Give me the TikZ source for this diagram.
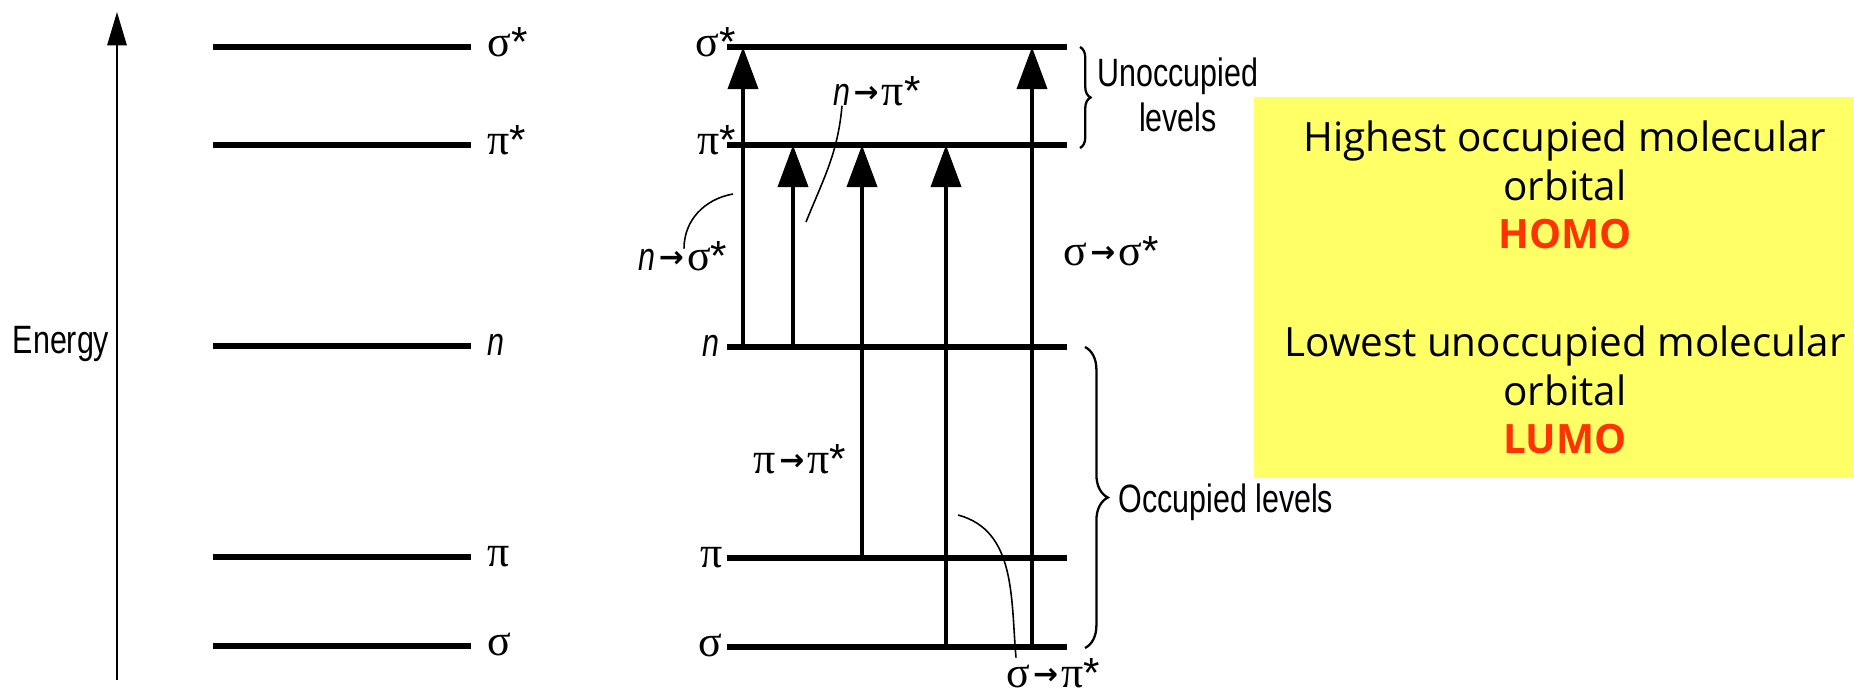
\documentclass[tikz,border=0pt]{standalone}
\usepackage{fontspec}
\setmainfont{Liberation Sans}
\newfontfamily\condfont[FakeStretch=0.77]{Liberation Sans}
\newfontfamily\starfont{Liberation Sans}
\newfontfamily\greekfont{Liberation Serif}
\newfontfamily\arrowfont{DejaVu Sans}
\newfontfamily\notefont{Open Sans}
\usetikzlibrary{arrows.meta, decorations.pathreplacing}

\definecolor{notebg}{HTML}{FFFF66}
\definecolor{notered}{HTML}{FF3300}

\newcommand{\sig}{{\greekfont\fontsize{25}{25}\selectfont σ}}
\newcommand{\pii}{{\greekfont\fontsize{25}{25}\selectfont π}}
\newcommand{\nn}{\textit{n}}
\newcommand{\str}{{\starfont\fontsize{24}{24}\selectfont *}}
\newcommand{\trto}{\hspace{0.08em}\raisebox{0.1ex}{\arrowfont\bfseries\fontsize{17}{17}\selectfont →}\hspace{0.08em}}

\begin{document}
\begin{tikzpicture}[
    x=0.02cm, y=-0.02cm,
    lev/.style={line width=3.3pt},
    trans/.style={line width=2.6pt, -{Triangle[length=24pt, width=17pt]}},
    lead/.style={line width=0.9pt},
    grp/.style={decorate, decoration={brace, amplitude=#1}, line width=1.3pt},
    grp/.default=6pt,
    lbl/.style={font=\condfont\fontsize{22.5}{25.5}\selectfont, inner sep=0pt},
    notebox/.style={fill=notebg, minimum width=12cm, minimum height=7.62cm, inner sep=0pt},
    note/.style={font=\notefont\fontsize{23}{27.5}\selectfont, align=center, inner sep=0pt}
]
\useasboundingbox (0,0) rectangle (1854,694);

% Energy axis
\coordinate (ebot) at (117,680);
\coordinate (etop) at (117,12);
\draw[line width=1.2pt, -{Triangle[length=19pt, width=11pt]}] (ebot) -- (etop);
\node[lbl, anchor=base] (energy) at (61,353) {Energy};

% Levels, left
\foreach \name/\y/\txt in {ss/47/{\sig\str}, pp/145/{\pii\str}, n/346/{\nn}, p/557/{\pii}, s/646/{\sig}} {
    \draw[lev] (213,\y) -- (471,\y);
    \node[lbl, anchor=base west] (l\name) at (487,\y+9) {\txt};
}

% Levels, right
\foreach \name/\y in {ss/47, pp/145, n/347, p/558, s/647} {
    \coordinate (a\name) at (727,\y);
    \coordinate (b\name) at (1067,\y);
    \draw[lev] (a\name) -- (b\name);
}
\node[lbl, anchor=base east] (mss) at (736,56) {\sig\str};
\node[lbl, anchor=base east] (mpp) at (736,154) {\pii\str};
\node[lbl, anchor=base east] (mn) at (720,356) {\nn};
\node[lbl, anchor=base east] (mp) at (723,567) {\pii};
\node[lbl, anchor=base east] (ms) at (723,656) {\sig};

% Transitions
\coordinate (x1) at (743,0);
\coordinate (x2) at (793,0);
\coordinate (x3) at (862,0);
\coordinate (x4) at (946,0);
\coordinate (x5) at (1032,0);
\draw[trans] (x1 |- an) -- (x1 |- ass);
\draw[trans] (x2 |- an) -- (x2 |- app);
\draw[trans] (x3 |- ap) -- (x3 |- app);
\draw[trans] (x4 |- as) -- (x4 |- app);
\draw[trans] (x5 |- as) -- (x5 |- ass);

% Transition labels
\node[lbl, anchor=base] (tns) at (683,270) {\nn\trto\sig\str};
\node[lbl, anchor=base] (tnp) at (877,105) {\nn\trto\pii\str};
\node[lbl, anchor=base] (tpp) at (800,473) {\pii\trto\pii\str};
\node[lbl, anchor=base] (tss) at (1111,265) {\sig\trto\sig\str};
\node[lbl, anchor=base] (tsp) at (1053,687) {\sig\trto\pii\str};

% Leaders
\coordinate (kns) at (733,194);
\coordinate (knp) at (806,222);
\coordinate (ksp) at (958,515);
\draw[lead] (tns.north -| 684,0) ++(0,8) to[out=90, in=190] (kns);
\draw[lead] (knp) to[out=68, in=-95] (tnp.south -| 842,0);
\draw[lead] (ksp) to[out=-15, in=95] (tsp.north -| 1016,0);

% Braces
\draw[grp=6pt] (1080,47) -- (1080,148);
\node[lbl, align=center] (unocc) at (1178,95) {Unoccupied\\levels};
\draw[grp=13pt] (1085,347) -- (1085,648);
\node[lbl, anchor=base west] (occ) at (1118,512) {Occupied levels};

% HOMO / LUMO note
\node[notebox] (notebg) at (1554,287.5) {};
\node[note] (homo) at (1565,185) {Highest occupied molecular\\orbital\\\textbf{\color{notered}HOMO}};
\node[note] (lumo) at (1565,390) {Lowest unoccupied molecular\\orbital\\\textbf{\color{notered}LUMO}};

\end{tikzpicture}
\end{document}
